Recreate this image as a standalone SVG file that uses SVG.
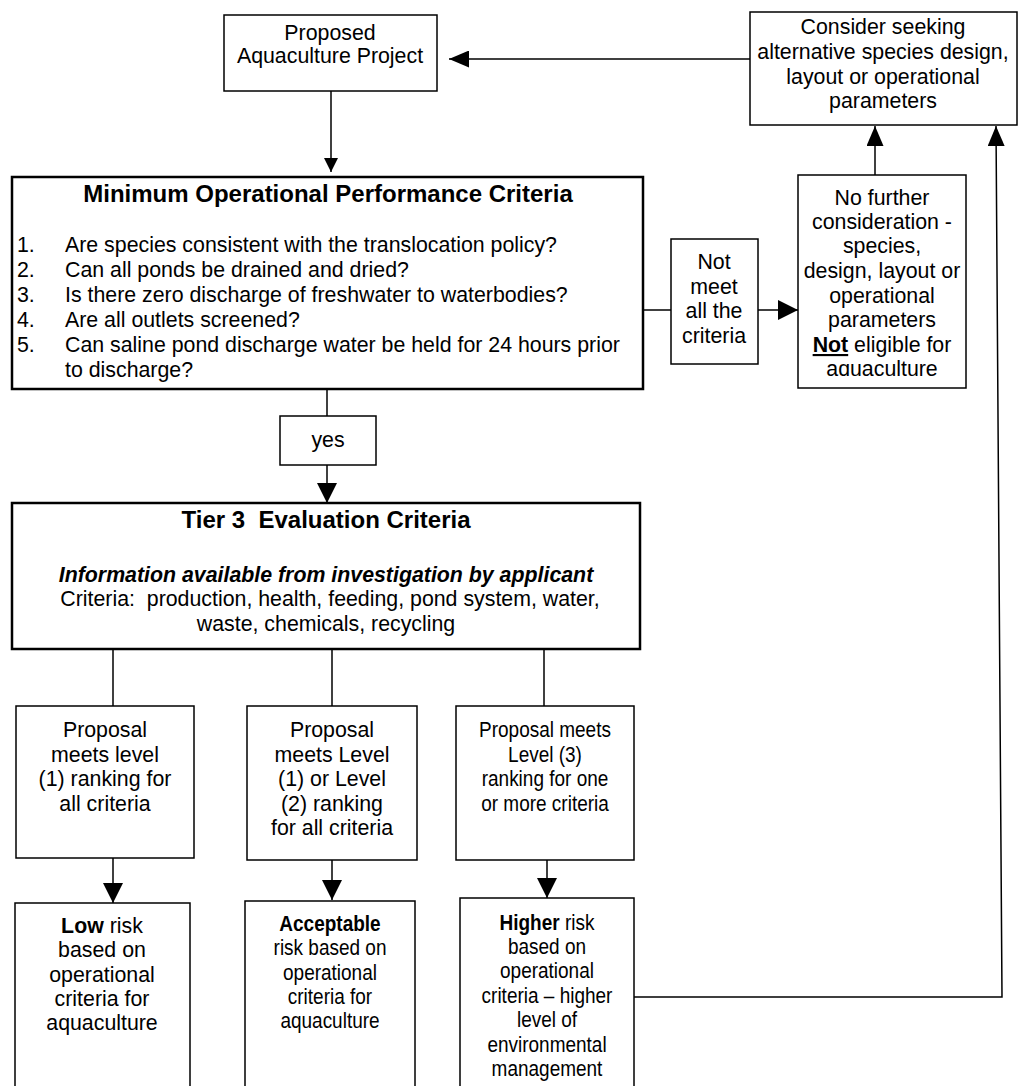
<svg xmlns="http://www.w3.org/2000/svg" width="1023" height="1086" viewBox="0 0 1023 1086">
<style>
.box{fill:#fff;stroke:#000;stroke-width:1.5}
.thick{stroke-width:2.5}
.t{font-family:"Liberation Sans",Arial,sans-serif;font-size:21.33px;fill:#000}
.c{text-anchor:middle}
.b{font-weight:bold}
.h{font-size:24px;font-weight:bold}
.bi{font-weight:bold;font-style:italic}
.ln{stroke:#000;stroke-width:1.5;fill:none}
</style>
<defs>
<marker id="ah" viewBox="0 0 10 10" refX="10" refY="5" markerUnits="userSpaceOnUse" markerWidth="20" markerHeight="20" orient="auto" preserveAspectRatio="none"><path d="M0,0L10,5L0,10z" fill="#000"/></marker>
<marker id="ahm" viewBox="0 0 10 10" refX="10" refY="5" markerUnits="userSpaceOnUse" markerWidth="20" markerHeight="17" orient="auto" preserveAspectRatio="none"><path d="M0,0L10,5L0,10z" fill="#000"/></marker>
<marker id="ahs" viewBox="0 0 10 10" refX="10" refY="5" markerUnits="userSpaceOnUse" markerWidth="14" markerHeight="14" orient="auto" preserveAspectRatio="none"><path d="M0,0L10,5L0,10z" fill="#000"/></marker>
<clipPath id="nfclip"><rect x="798" y="175" width="168" height="201"/></clipPath>
</defs>

<g id="connectors">
<line class="ln" x1="331" y1="91" x2="331" y2="172" marker-end="url(#ahs)"/>
<line class="ln" x1="750" y1="59" x2="449" y2="59" marker-end="url(#ahm)"/>
<line class="ln" x1="643" y1="310" x2="671" y2="310"/>
<line class="ln" x1="758" y1="310" x2="798" y2="310" marker-end="url(#ah)"/>
<line class="ln" x1="875" y1="175" x2="875" y2="126" marker-end="url(#ahm)"/>
<line class="ln" x1="327" y1="389" x2="327" y2="416"/>
<line class="ln" x1="327" y1="465" x2="327" y2="503" marker-end="url(#ah)"/>
<line class="ln" x1="113" y1="649" x2="113" y2="706"/>
<line class="ln" x1="332" y1="649" x2="332" y2="706"/>
<line class="ln" x1="544" y1="646" x2="544" y2="706"/>
<line class="ln" x1="113" y1="858" x2="113" y2="903" marker-end="url(#ah)"/>
<line class="ln" x1="332" y1="860" x2="332" y2="900" marker-end="url(#ah)"/>
<line class="ln" x1="547" y1="860" x2="547" y2="898" marker-end="url(#ah)"/>
<polyline class="ln" points="634,997 1002,997 996,126" marker-end="url(#ahm)"/>
</g>

<g id="proposed">
<rect class="box" x="224" y="15" width="213" height="76"/>
<text class="t c" x="330" y="40">Proposed</text>
<text class="t c" x="330" y="63">Aquaculture Project</text>
</g>

<g id="consider">
<rect class="box" x="750" y="12" width="267" height="113"/>
<text class="t c" x="883" y="34">Consider seeking</text>
<text class="t c" x="883" y="59">alternative species design,</text>
<text class="t c" x="883" y="84">layout or operational</text>
<text class="t c" x="883" y="108">parameters</text>
</g>

<g id="mopc">
<rect class="box thick" x="12" y="177" width="631" height="212"/>
<text class="t h c" x="328" y="202">Minimum Operational Performance Criteria</text>
<text class="t" x="17" y="252">1.</text><text class="t" x="65" y="252">Are species consistent with the translocation policy?</text>
<text class="t" x="17" y="277">2.</text><text class="t" x="65" y="277">Can all ponds be drained and dried?</text>
<text class="t" x="17" y="302">3.</text><text class="t" x="65" y="302">Is there zero discharge of freshwater to waterbodies?</text>
<text class="t" x="17" y="327">4.</text><text class="t" x="65" y="327">Are all outlets screened?</text>
<text class="t" x="17" y="352">5.</text><text class="t" x="65" y="352">Can saline pond discharge water be held for 24 hours prior</text>
<text class="t" x="65" y="377">to discharge?</text>
</g>

<g id="notmeet">
<rect class="box" x="671" y="239" width="87" height="125"/>
<text class="t c" x="714" y="269">Not</text>
<text class="t c" x="714" y="294">meet</text>
<text class="t c" x="714" y="318">all the</text>
<text class="t c" x="714" y="343">criteria</text>
</g>

<g id="nofurther">
<rect class="box" x="798" y="175" width="168" height="213"/>
<g clip-path="url(#nfclip)">
<text class="t c" x="882" y="205">No further</text>
<text class="t c" x="882" y="229">consideration -</text>
<text class="t c" x="882" y="253">species,</text>
<text class="t c" x="882" y="278">design, layout or</text>
<text class="t c" x="882" y="303">operational</text>
<text class="t c" x="882" y="327">parameters</text>
<text class="t c" x="882" y="352"><tspan class="b" style="text-decoration:underline">Not</tspan> eligible for</text>
<text class="t c" x="882" y="376">aquaculture</text>
</g>
</g>

<g id="yes">
<rect class="box" x="280" y="416" width="96" height="49"/>
<text class="t c" x="328" y="447">yes</text>
</g>

<g id="tier3">
<rect class="box thick" x="12" y="503" width="628" height="146"/>
<text class="t h c" x="326" y="528" xml:space="preserve">Tier 3  Evaluation Criteria</text>
<text class="t bi c" x="326" y="582">Information available from investigation by applicant</text>
<text class="t c" x="330" y="606" xml:space="preserve">Criteria:  production, health, feeding, pond system, water,</text>
<text class="t c" x="326" y="631">waste, chemicals, recycling</text>
</g>

<g id="prop1">
<rect class="box" x="16" y="706" width="178" height="152"/>
<text class="t c" x="105" y="737">Proposal</text>
<text class="t c" x="105" y="762">meets level</text>
<text class="t c" x="105" y="786">(1) ranking for</text>
<text class="t c" x="105" y="811">all criteria</text>
</g>

<g id="prop2">
<rect class="box" x="247" y="706" width="170" height="154"/>
<text class="t c" x="332" y="737">Proposal</text>
<text class="t c" x="332" y="762">meets Level</text>
<text class="t c" x="332" y="786">(1) or Level</text>
<text class="t c" x="332" y="811">(2) ranking</text>
<text class="t c" x="332" y="835">for all criteria</text>
</g>

<g id="prop3">
<rect class="box" x="456" y="706" width="178" height="154"/>
<g transform="translate(545,0) scale(0.89,1)">
<text class="t c" x="0" y="737">Proposal meets</text>
<text class="t c" x="0" y="762">Level (3)</text>
<text class="t c" x="0" y="786">ranking for one</text>
<text class="t c" x="0" y="811">or more criteria</text>
</g>
</g>

<g id="low">
<rect class="box" x="15" y="903" width="175" height="190"/>
<text class="t c" x="102" y="933"><tspan class="b">Low</tspan> risk</text>
<text class="t c" x="102" y="957">based on</text>
<text class="t c" x="102" y="982">operational</text>
<text class="t c" x="102" y="1006">criteria for</text>
<text class="t c" x="102" y="1030">aquaculture</text>
</g>

<g id="acceptable">
<rect class="box" x="245" y="901" width="170" height="192"/>
<g transform="translate(330,0) scale(0.89,1)">
<text class="t c b" x="0" y="931">Acceptable</text>
<text class="t c" x="0" y="955">risk based on</text>
<text class="t c" x="0" y="980">operational</text>
<text class="t c" x="0" y="1004">criteria for</text>
<text class="t c" x="0" y="1028">aquaculture</text>
</g>
</g>

<g id="higher">
<rect class="box" x="460" y="898" width="174" height="195"/>
<g transform="translate(547,0) scale(0.89,1)">
<text class="t c" x="0" y="930"><tspan class="b">Higher</tspan> risk</text>
<text class="t c" x="0" y="954">based on</text>
<text class="t c" x="0" y="978">operational</text>
<text class="t c" x="0" y="1003">criteria – higher</text>
<text class="t c" x="0" y="1027">level of</text>
<text class="t c" x="0" y="1052">environmental</text>
<text class="t c" x="0" y="1076">management</text>
</g>
</g>
</svg>
